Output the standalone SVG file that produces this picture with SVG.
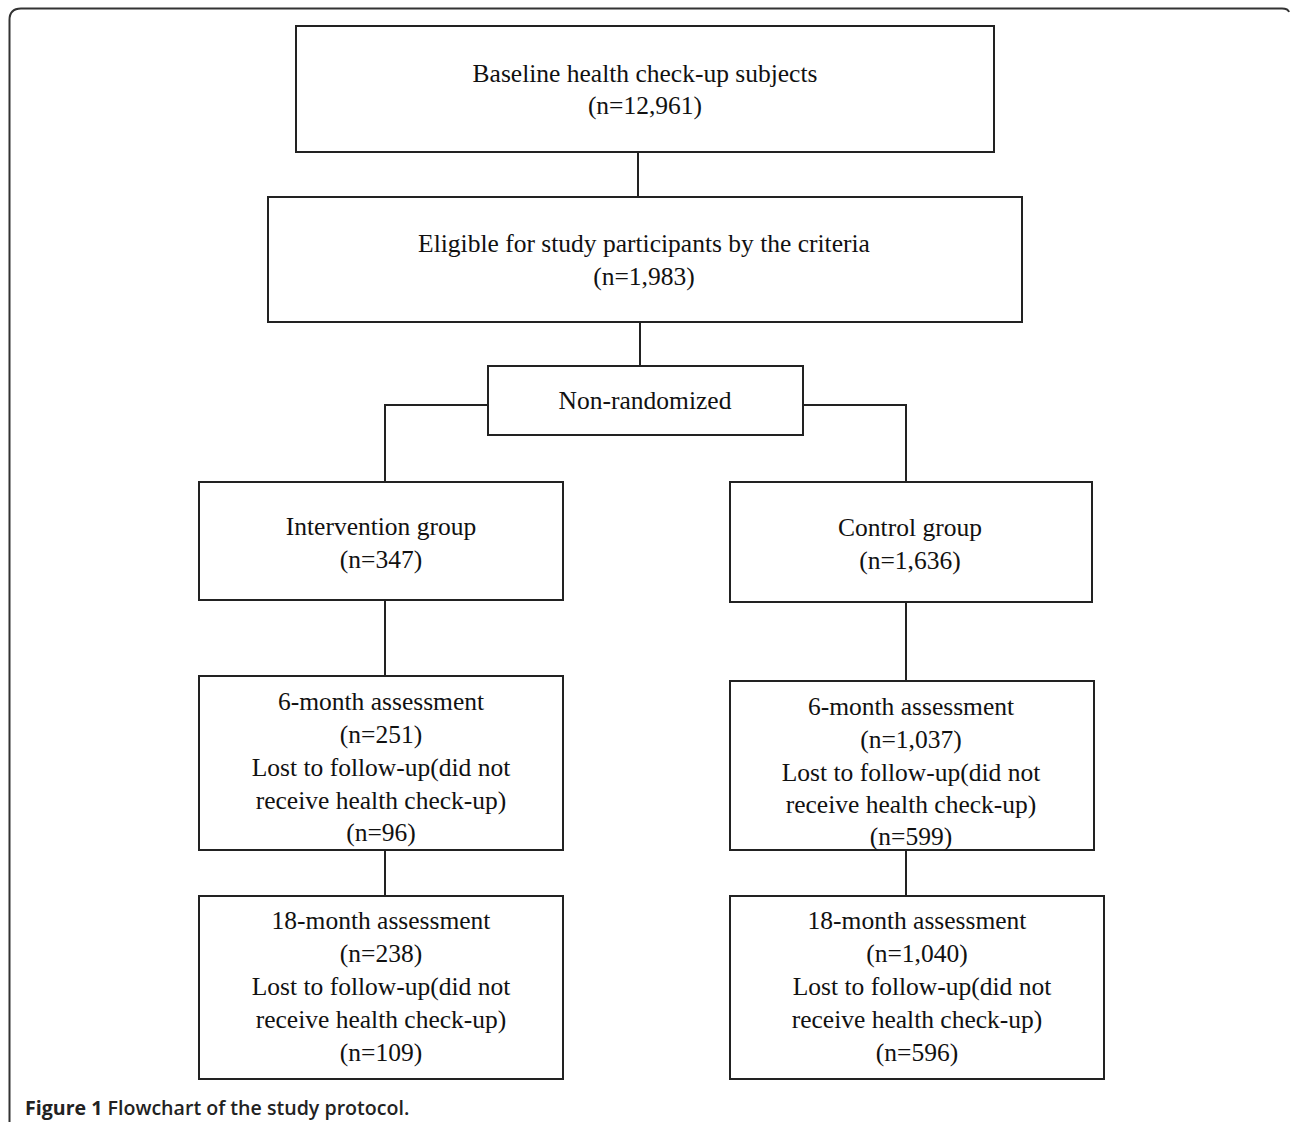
<svg xmlns="http://www.w3.org/2000/svg" width="1290" height="1122" viewBox="0 0 1290 1122">
<style>
.box{fill:#fff;stroke:#222;stroke-width:2}
.t{font-family:"Liberation Serif","Times New Roman",serif;font-size:25.5px;fill:#111;text-anchor:middle}
.c{fill:none;stroke:#222;stroke-width:2}
.cap{font-family:"Open Sans","Noto Sans",sans-serif;font-size:19.6px;fill:#222;font-weight:600}
</style>
<rect width="1290" height="1122" fill="#fff"/>
<path d="M9.5,1122 V20 Q9.5,8.5 21,8.5 H1282 Q1288,8.5 1289,12" fill="none" stroke="#333" stroke-width="2"/>
<g id="connectors">
<line class="c" x1="638" y1="152" x2="638" y2="197"/>
<line class="c" x1="640" y1="322" x2="640" y2="366"/>
<polyline class="c" points="488,405 385,405 385,482"/>
<polyline class="c" points="803,405 906,405 906,482"/>
<line class="c" x1="385" y1="600" x2="385" y2="676"/>
<line class="c" x1="385" y1="850" x2="385" y2="896"/>
<line class="c" x1="906" y1="602" x2="906" y2="681"/>
<line class="c" x1="906" y1="850" x2="906" y2="896"/>
</g>
<g id="baseline">
<rect class="box" x="296" y="26" width="698" height="126"/>
<text class="t" x="645" y="82">Baseline  health check-up subjects</text>
<text class="t" x="645" y="114">(n=12,961)</text>
</g>
<g id="eligible">
<rect class="box" x="268" y="197" width="754" height="125"/>
<text class="t" x="644" y="252">Eligible  for study participants by the criteria</text>
<text class="t" x="644" y="285">(n=1,983)</text>
</g>
<g id="nonrandomized">
<rect class="box" x="488" y="366" width="315" height="69"/>
<text class="t" x="645" y="409">Non-randomized</text>
</g>
<g id="intervention">
<rect class="box" x="199" y="482" width="364" height="118"/>
<text class="t" x="381" y="535">Intervention group</text>
<text class="t" x="381" y="568">(n=347)</text>
</g>
<g id="control">
<rect class="box" x="730" y="482" width="362" height="120"/>
<text class="t" x="910" y="536">Control group</text>
<text class="t" x="910" y="569">(n=1,636)</text>
</g>
<g id="int6">
<rect class="box" x="199" y="676" width="364" height="174"/>
<text class="t" x="381" y="710">6-month assessment</text>
<text class="t" x="381" y="743">(n=251)</text>
<text class="t" x="381" y="776">Lost to follow-up(did not</text>
<text class="t" x="381" y="809">receive  health check-up)</text>
<text class="t" x="381" y="841">(n=96)</text>
</g>
<g id="ctl6">
<rect class="box" x="730" y="681" width="364" height="169"/>
<text class="t" x="911" y="715">6-month assessment</text>
<text class="t" x="911" y="748">(n=1,037)</text>
<text class="t" x="911" y="781">Lost to follow-up(did not</text>
<text class="t" x="911" y="813">receive  health check-up)</text>
<text class="t" x="911" y="845">(n=599)</text>
</g>
<g id="int18">
<rect class="box" x="199" y="896" width="364" height="183"/>
<text class="t" x="381" y="929">18-month assessment</text>
<text class="t" x="381" y="962">(n=238)</text>
<text class="t" x="381" y="995">Lost to follow-up(did not</text>
<text class="t" x="381" y="1028">receive  health check-up)</text>
<text class="t" x="381" y="1061">(n=109)</text>
</g>
<g id="ctl18">
<rect class="box" x="730" y="896" width="374" height="183"/>
<text class="t" x="917" y="929">18-month assessment</text>
<text class="t" x="917" y="962">(n=1,040)</text>
<text class="t" x="922" y="995">Lost to follow-up(did not</text>
<text class="t" x="917" y="1028">receive  health check-up)</text>
<text class="t" x="917" y="1061">(n=596)</text>
</g>
<text class="cap" x="25" y="1115"><tspan font-weight="bold">Figure 1</tspan> Flowchart of the study protocol.</text>
</svg>
